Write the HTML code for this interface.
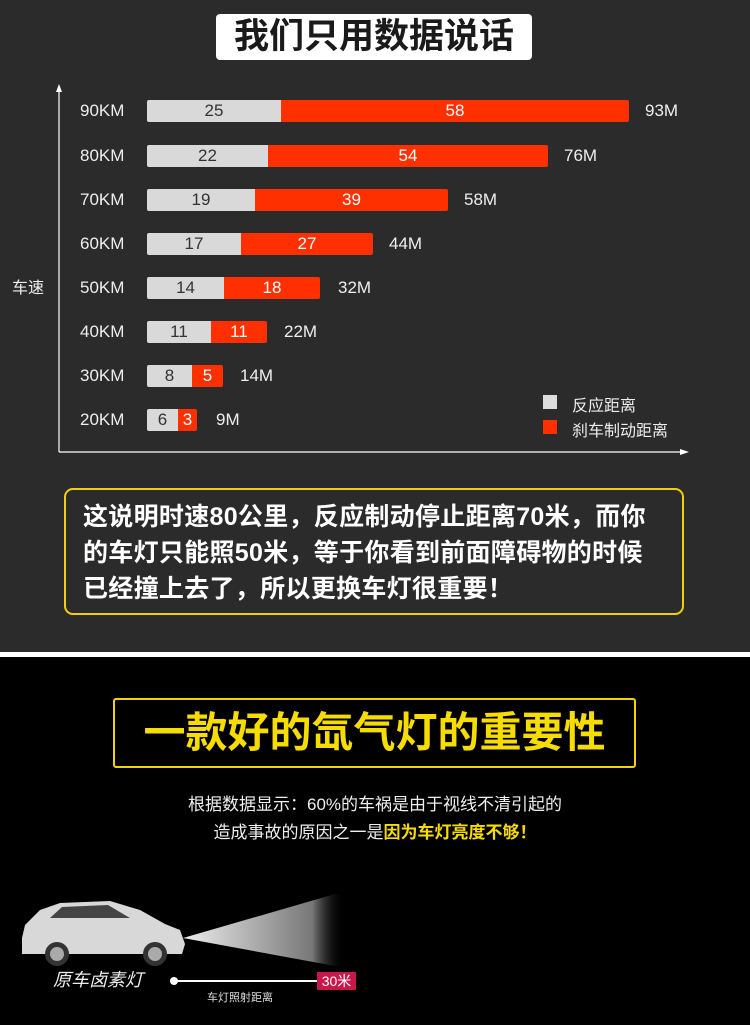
<!DOCTYPE html>
<html><head><meta charset="utf-8"><style>
*{margin:0;padding:0;box-sizing:border-box}
body{width:750px;height:1025px;position:relative;background:#000;font-family:"Liberation Sans","Noto Sans CJK SC",sans-serif;overflow:hidden}
.a{position:absolute;white-space:nowrap}
#top{position:absolute;left:0;top:0;width:750px;height:652px;background:#2b2b2b}
.lab{position:absolute;left:80px;color:#eee;font-size:17px;line-height:22px}
.g{position:absolute;height:22px;background:#d9d9d9;color:#333;font-size:17px;text-align:center;line-height:22px;border-radius:2px 0 0 2px}
.r{position:absolute;height:22px;background:#ff3000;color:#fff;font-size:17px;text-align:center;line-height:22px;border-radius:0 2px 2px 0}
.t{position:absolute;color:#eee;font-size:17px;line-height:22px}
</style></head><body>
<div id="top"></div>
<div class="a" style="left:216px;top:14px;width:316px;height:46px;background:#fff;border-radius:4px;text-align:center;font-size:35px;font-weight:bold;line-height:46px;color:#1a1a1a">我们只用数据说话</div>
<svg class="a" style="left:0;top:0" width="750" height="470">
<line x1="59" y1="90" x2="59" y2="452" stroke="#fff" stroke-width="1.2"/>
<polygon points="59,84 56,92 62,92" fill="#fff"/>
<line x1="59" y1="452" x2="682" y2="452" stroke="#fff" stroke-width="1.2"/>
<polygon points="689,452 680,449 680,455" fill="#fff"/>
</svg>
<div class="a" style="left:12px;top:274px;color:#eee;font-size:16px">车速</div>

<div class="lab" style="top:100px">90KM</div><div class="g" style="left:147px;top:100px;width:134px">25</div><div class="r" style="left:281px;top:100px;width:348px">58</div><div class="t" style="left:645px;top:100px">93M</div>
<div class="lab" style="top:145px">80KM</div><div class="g" style="left:147px;top:145px;width:121px">22</div><div class="r" style="left:268px;top:145px;width:280px">54</div><div class="t" style="left:564px;top:145px">76M</div>
<div class="lab" style="top:189px">70KM</div><div class="g" style="left:147px;top:189px;width:108px">19</div><div class="r" style="left:255px;top:189px;width:193px">39</div><div class="t" style="left:464px;top:189px">58M</div>
<div class="lab" style="top:233px">60KM</div><div class="g" style="left:147px;top:233px;width:94px">17</div><div class="r" style="left:241px;top:233px;width:132px">27</div><div class="t" style="left:389px;top:233px">44M</div>
<div class="lab" style="top:277px">50KM</div><div class="g" style="left:147px;top:277px;width:77px">14</div><div class="r" style="left:224px;top:277px;width:96px">18</div><div class="t" style="left:338px;top:277px">32M</div>
<div class="lab" style="top:321px">40KM</div><div class="g" style="left:147px;top:321px;width:64px">11</div><div class="r" style="left:211px;top:321px;width:56px">11</div><div class="t" style="left:284px;top:321px">22M</div>
<div class="lab" style="top:365px">30KM</div><div class="g" style="left:147px;top:365px;width:45px">8</div><div class="r" style="left:192px;top:365px;width:31px">5</div><div class="t" style="left:240px;top:365px">14M</div>
<div class="lab" style="top:409px">20KM</div><div class="g" style="left:147px;top:409px;width:31px">6</div><div class="r" style="left:178px;top:409px;width:19px">3</div><div class="t" style="left:216px;top:409px">9M</div>

<div class="a" style="left:543px;top:395px;width:14px;height:14px;background:#ddd"></div>
<div class="a" style="left:572px;top:392px;color:#eee;font-size:16px">反应距离</div>
<div class="a" style="left:543px;top:420px;width:14px;height:14px;background:#ff3000"></div>
<div class="a" style="left:572px;top:417px;color:#eee;font-size:16px">刹车制动距离</div>

<div class="a" style="left:64px;top:488px;width:620px;height:127px;border:2px solid #f2cf0a;border-radius:9px"></div>
<div class="a" style="left:83px;top:499px;color:#fff;font-size:25px;font-weight:bold;line-height:36px;letter-spacing:0.3px">这说明时速80公里，反应制动停止距离70米，而你<br>的车灯只能照50米，等于你看到前面障碍物的时候<br>已经撞上去了，所以更换车灯很重要！</div>

<div class="a" style="left:0;top:652px;width:750px;height:5px;background:#fff"></div>

<div class="a" style="left:113px;top:698px;width:523px;height:70px;border:2px solid #f2d30a;border-radius:3px;text-align:center;color:#f7dc00;font-size:42px;font-weight:bold;line-height:66px">一款好的氙气灯的重要性</div>
<div class="a" style="left:0;top:790px;width:750px;text-align:center;color:#eee;font-size:17px">根据数据显示：60%的车祸是由于视线不清引起的</div>
<div class="a" style="left:0;top:818px;width:750px;text-align:center;color:#eee;font-size:17px">造成事故的原因之一是<b style="color:#f7dc00">因为车灯亮度不够！</b></div>

<svg class="a" style="left:0;top:880px" width="400" height="120">
<defs><linearGradient id="lg" x1="0" x2="1"><stop offset="0" stop-color="#eee"/><stop offset="0.8" stop-color="#777"/><stop offset="1" stop-color="#000" stop-opacity="0"/></linearGradient></defs>
<polygon points="183,58 335,14 345,14 345,86 335,86" fill="url(#lg)"/>
<path d="M25,45 L40,30 L60,23 L110,21 L140,30 L165,44 L180,50 L185,64 L182,74 L22,74 L22,58 Z" fill="#d8d8d8"/>
<path d="M50,38 L62,27 L108,25 L130,38 Z" fill="#444"/>
<circle cx="57" cy="74" r="12" fill="#333"/><circle cx="57" cy="74" r="7" fill="#aaa"/>
<circle cx="155" cy="74" r="12" fill="#333"/><circle cx="155" cy="74" r="7" fill="#aaa"/>
</svg>
<div class="a" style="left:53px;top:966px;color:#eee;font-size:18px;font-style:italic">原车卤素灯</div>
<div class="a" style="left:170px;top:977px;width:8px;height:8px;border-radius:50%;background:#fff"></div>
<div class="a" style="left:174px;top:980px;width:144px;height:1.5px;background:#fff"></div>
<div class="a" style="left:317px;top:972px;width:39px;height:18px;background:#c8174a;color:#fff;font-size:14px;line-height:18px;text-align:center">30米</div>
<div class="a" style="left:207px;top:989px;color:#ddd;font-size:11px">车灯照射距离</div>
</body></html>
